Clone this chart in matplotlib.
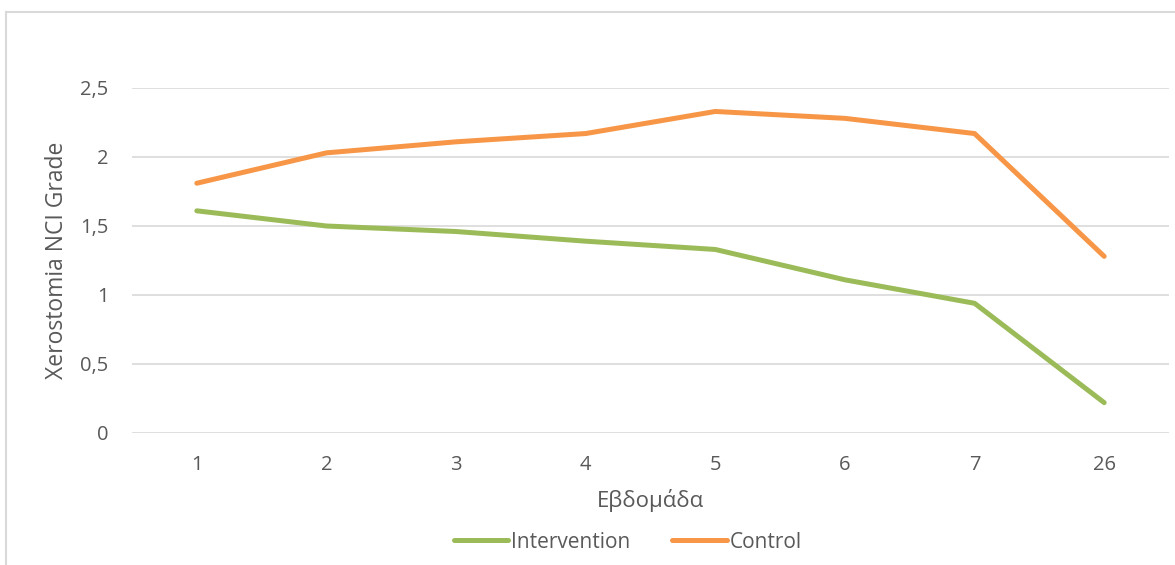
import matplotlib.pyplot as plt
from matplotlib.lines import Line2D
import numpy as np

# DATA

weeks = ['1', '2', '3', '4', '5', '6', '7', '26']
intervention = [1.61, 1.50, 1.46, 1.39, 1.33, 1.11, 0.94, 0.22]
control = [1.81, 2.03, 2.11, 2.17, 2.33, 2.28, 2.17, 1.28]
y_ticks = [0, 0.5, 1, 1.5, 2, 2.5]

GREEN = '#9BBB59'
ORANGE = '#F79646'
TEXT = '#595959'
GRID = '#D9D9D9'

plt.rcParams['font.family'] = ['Open Sans', 'DejaVu Sans']

W, H = 1175, 565
fig = plt.figure(figsize=(W / 100, H / 100), dpi=100)
ax = fig.add_axes([132 / W, 1 - 433 / H, (1169 - 132) / W, (433 - 88) / H])

# chart border (Excel-style frame cut by the image edge)
fig.add_artist(Line2D([5.5 / W, 5.5 / W], [0, 1 - 11.5 / H], color=GRID, lw=1.5))
fig.add_artist(Line2D([5.5 / W, 1], [1 - 11.5 / H, 1 - 11.5 / H], color=GRID, lw=1.5))

x = np.arange(len(weeks))
ax.plot(x, intervention, color=GREEN, lw=3.6, solid_capstyle='round', solid_joinstyle='round', label='Intervention')
ax.plot(x, control, color=ORANGE, lw=3.6, solid_capstyle='round', solid_joinstyle='round', label='Control')

ax.set_xlim(-0.5, len(weeks) - 0.5)
ax.set_ylim(0, 2.5)
ax.set_xticks(x)
ax.set_xticklabels(weeks)
ax.set_yticks(y_ticks)
ax.set_yticklabels([f'{v:g}'.replace('.', ',') for v in y_ticks])
ax.tick_params(length=0, labelsize=14.5, colors=TEXT)
ax.tick_params(axis='y', pad=17)
ax.tick_params(axis='x', pad=16)

ax.grid(axis='y', color=GRID, lw=1.2)
ax.set_axisbelow(True)
for s in ax.spines.values():
    s.set_visible(False)

ax.set_xlabel('Εβδομάδα', fontsize=16, color=TEXT, labelpad=10)
ax.set_ylabel('Xerostomia NCI Grade', fontsize=16.5, color=TEXT, labelpad=8)

fig.legend(loc='center', bbox_to_anchor=(628 / W, 1 - 542 / H), ncol=2, frameon=False,
           fontsize=15, handlelength=2.6, handletextpad=0.15, columnspacing=2.0,
           labelcolor=TEXT)

fig.savefig('out.png', dpi=100)
